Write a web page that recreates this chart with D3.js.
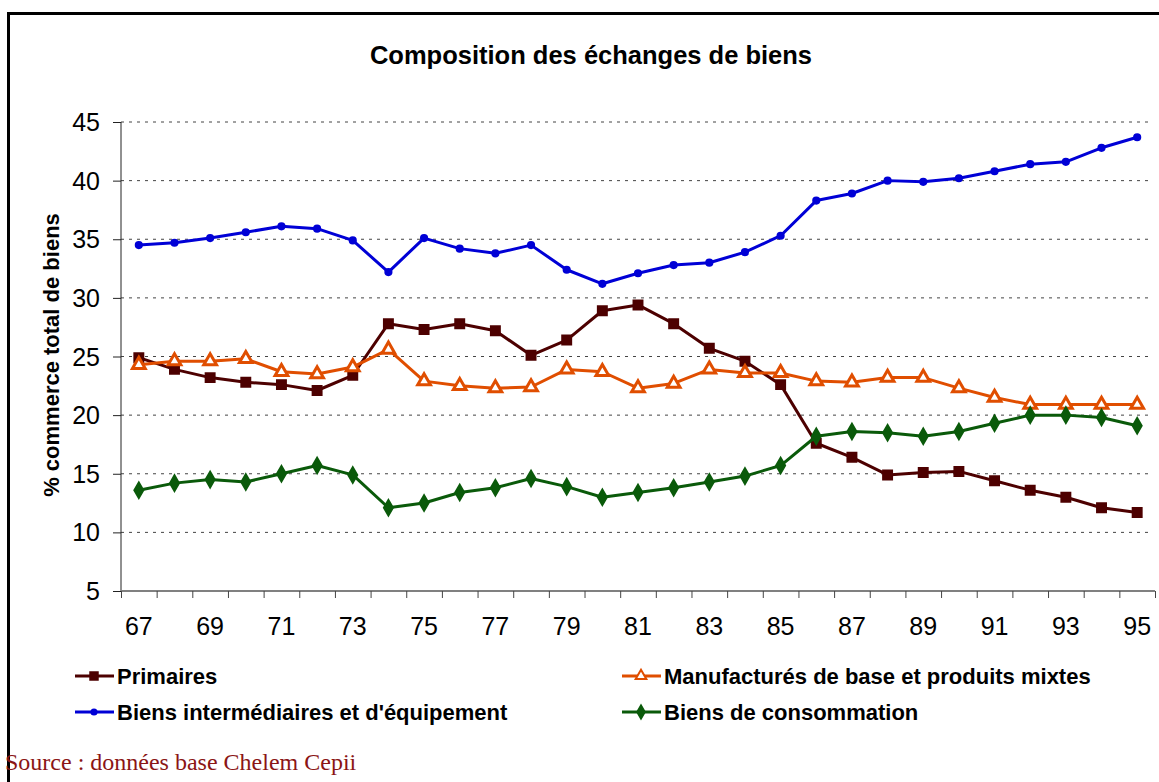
<!DOCTYPE html>
<html lang="fr">
  <head>
    <meta charset="utf-8">
    <title>Composition des échanges de biens</title>
    <script src="https://d3js.org/d3.v7.js"></script>
    <style>
      body {
        margin: 0;
        background: white;
      }
      text {
        font-family: "Liberation Sans", Arial, sans-serif;
      }
    </style>
  </head>
  <body>
    <script type="text/javascript">

      // data
      const years = ["67","68","69","70","71","72","73","74","75","76","77","78","79","80",
                     "81","82","83","84","85","86","87","88","89","90","91","92","93","94","95"];

      const primaires = [24.9, 23.9, 23.2, 22.8, 22.6, 22.1, 23.4, 27.8, 27.3, 27.8, 27.2, 25.1, 26.4, 28.9,
                         29.4, 27.8, 25.7, 24.6, 22.6, 17.6, 16.4, 14.9, 15.1, 15.2, 14.4, 13.6, 13.0, 12.1, 11.7];

      const manufactures = [24.3, 24.6, 24.6, 24.8, 23.7, 23.5, 24.1, 25.6, 22.9, 22.5, 22.3, 22.4, 23.9, 23.7,
                            22.3, 22.7, 23.9, 23.6, 23.6, 22.9, 22.8, 23.2, 23.2, 22.3, 21.5, 20.9, 20.9, 20.9, 20.9];

      const intermediaires = [34.5, 34.7, 35.1, 35.6, 36.1, 35.9, 34.9, 32.2, 35.1, 34.2, 33.8, 34.5, 32.4, 31.2,
                              32.1, 32.8, 33.0, 33.9, 35.3, 38.3, 38.9, 40.0, 39.9, 40.2, 40.8, 41.4, 41.6, 42.8, 43.7];

      const consommation = [13.6, 14.2, 14.5, 14.3, 15.0, 15.7, 14.9, 12.1, 12.5, 13.4, 13.8, 14.6, 13.9, 13.0,
                            13.4, 13.8, 14.3, 14.8, 15.7, 18.2, 18.6, 18.5, 18.2, 18.6, 19.3, 20.0, 20.0, 19.8, 19.1];

      const yTicks = [5, 10, 15, 20, 25, 30, 35, 40, 45];
      const xLabels = years.filter((d, i) => i % 2 == 0);

      const series = [
        {name: "Primaires", values: primaires, color: "#4d0000", symbol: d3.symbolSquare, size: 80, fill: "#4d0000"},
        {name: "Manufacturés de base et produits mixtes", values: manufactures, color: "#e04e00", symbol: d3.symbolTriangle, size: 70, fill: "white"},
        {name: "Biens intermédiaires et d'équipement", values: intermediaires, color: "#0000d6", symbol: d3.symbolCircle, size: 30, fill: "#0000d6"},
        {name: "Biens de consommation", values: consommation, color: "#0a5a0a", symbol: d3.symbolDiamond, size: 70, fill: "#0a5a0a"}
      ];

      //Width and height
      const w = 1159;
      const h = 782;
      const margin = {top: 122, right: 4, bottom: 191, left: 121};
      const x0 = margin.left, x1 = w - margin.right;
      const y0 = h - margin.bottom, y1 = margin.top;

      // create scales (absolute page coordinates)
      const xScale = d3.scaleBand()
        .domain(years)
        .range([x0, x1]);

      const yScale = d3.scaleLinear()
        .domain([5, 45])
        .range([y0, y1]);

      const xTickScale = d3.scaleLinear()
        .domain([0, years.length])
        .range([x0, x1]);

      const cx = d => xScale(d) + xScale.bandwidth() / 2;

      const svg = d3.select("body")
        .append("svg")
        .attr("width", w)
        .attr("height", h);

      // frame
      svg.append("rect")
        .attr("x", 8.5)
        .attr("y", 13.5)
        .attr("width", w + 10)
        .attr("height", h + 10)
        .attr("fill", "white")
        .attr("stroke", "black")
        .attr("stroke-width", 3);

      // title
      svg.append("text")
        .attr("x", 591)
        .attr("y", 64)
        .attr("text-anchor", "middle")
        .style("font-size", "25.5px")
        .style("font-weight", "bold")
        .text("Composition des échanges de biens");

      // gridlines
      svg.append("g")
        .selectAll("line")
        .data(yTicks.filter(d => d > 5))
        .enter()
        .append("line")
        .attr("x1", x0)
        .attr("x2", x1 - 6)
        .attr("y1", d => yScale(d))
        .attr("y2", d => yScale(d))
        .attr("stroke", "#444")
        .attr("stroke-width", 1)
        .attr("stroke-dasharray", "3,5");

      // y axis (line and ticks)
      const yAxis = d3.axisLeft()
        .scale(yScale)
        .tickValues(yTicks)
        .tickFormat("")
        .tickSize(8);

      svg.append("g")
        .attr("id", "yaxis")
        .attr("transform", `translate(${x0},0)`)
        .call(yAxis)
        .call(g => g.select(".domain").attr("stroke", "#222").attr("d", `M0,${y1}V${y0}`))
        .call(g => g.selectAll(".tick line").attr("stroke", "#222"));

      // y tick labels
      svg.append("g")
        .selectAll("text")
        .data(yTicks)
        .enter()
        .append("text")
        .attr("x", x0 - 21)
        .attr("y", d => yScale(d) + 9)
        .attr("text-anchor", "end")
        .style("font-size", "25px")
        .text(d => d);

      // x axis : ticks between categories
      const xAxis = d3.axisBottom()
        .scale(xTickScale)
        .tickValues(d3.range(0, years.length + 1))
        .tickFormat("")
        .tickSize(7);

      svg.append("g")
        .attr("id", "xaxis")
        .attr("transform", `translate(0,${y0})`)
        .call(xAxis)
        .call(g => g.select(".domain").attr("stroke", "#808080").attr("stroke-width", 2).attr("d", `M${x0},0H${x1}`))
        .call(g => g.selectAll(".tick line").attr("stroke", "#444"));

      // x labels, every 2 years
      svg.append("g")
        .selectAll("text")
        .data(xLabels)
        .enter()
        .append("text")
        .attr("x", d => cx(d))
        .attr("y", y0 + 44)
        .attr("text-anchor", "middle")
        .style("font-size", "25px")
        .text(d => d);

      // y axis label
      svg.append("text")
        .attr("transform", "translate(59,355) rotate(-90)")
        .attr("text-anchor", "middle")
        .style("font-size", "22px")
        .style("font-weight", "bold")
        .text("% commerce total de biens");

      // lines and markers
      const line = d3.line()
        .x((d, i) => cx(years[i]))
        .y(d => yScale(d));

      series.forEach(s => {
        svg.append("path")
          .datum(s.values)
          .attr("d", line)
          .attr("fill", "none")
          .attr("stroke", s.color)
          .attr("stroke-width", 3)
          .attr("stroke-linejoin", "round");

        svg.append("g")
          .selectAll("path")
          .data(s.values)
          .enter()
          .append("path")
          .attr("transform", (d, i) => `translate(${cx(years[i])},${yScale(d)})`)
          .attr("d", d3.symbol().type(s.symbol).size(s.size))
          .attr("fill", s.fill)
          .attr("stroke", s.color)
          .attr("stroke-width", s.fill == "white" ? 3 : 2);
      });

      // legend
      const legendPos = [
        {x: 75, y: 676},
        {x: 622, y: 676},
        {x: 75, y: 712},
        {x: 622, y: 712}
      ];

      series.forEach((s, i) => {
        const p = legendPos[i];
        const lg = svg.append("g")
          .attr("transform", `translate(${p.x},${p.y})`);

        lg.append("line")
          .attr("x1", 0)
          .attr("x2", 39)
          .attr("y1", 0)
          .attr("y2", 0)
          .attr("stroke", s.color)
          .attr("stroke-width", 3);

        lg.append("path")
          .attr("transform", "translate(19,0)")
          .attr("d", d3.symbol().type(s.symbol).size(s.size * 0.7))
          .attr("fill", s.fill)
          .attr("stroke", s.color)
          .attr("stroke-width", 2);

        lg.append("text")
          .attr("x", 42)
          .attr("y", 8)
          .style("font-size", "22px")
          .style("font-weight", "bold")
          .text(s.name);
      });

      // source
      svg.append("text")
        .attr("x", 5)
        .attr("y", 770)
        .style("font-family", "'Liberation Serif', 'Times New Roman', serif")
        .style("font-size", "24px")
        .attr("fill", "#8b1515")
        .text("Source : données base Chelem Cepii");

    </script>
  </body>
</html>
